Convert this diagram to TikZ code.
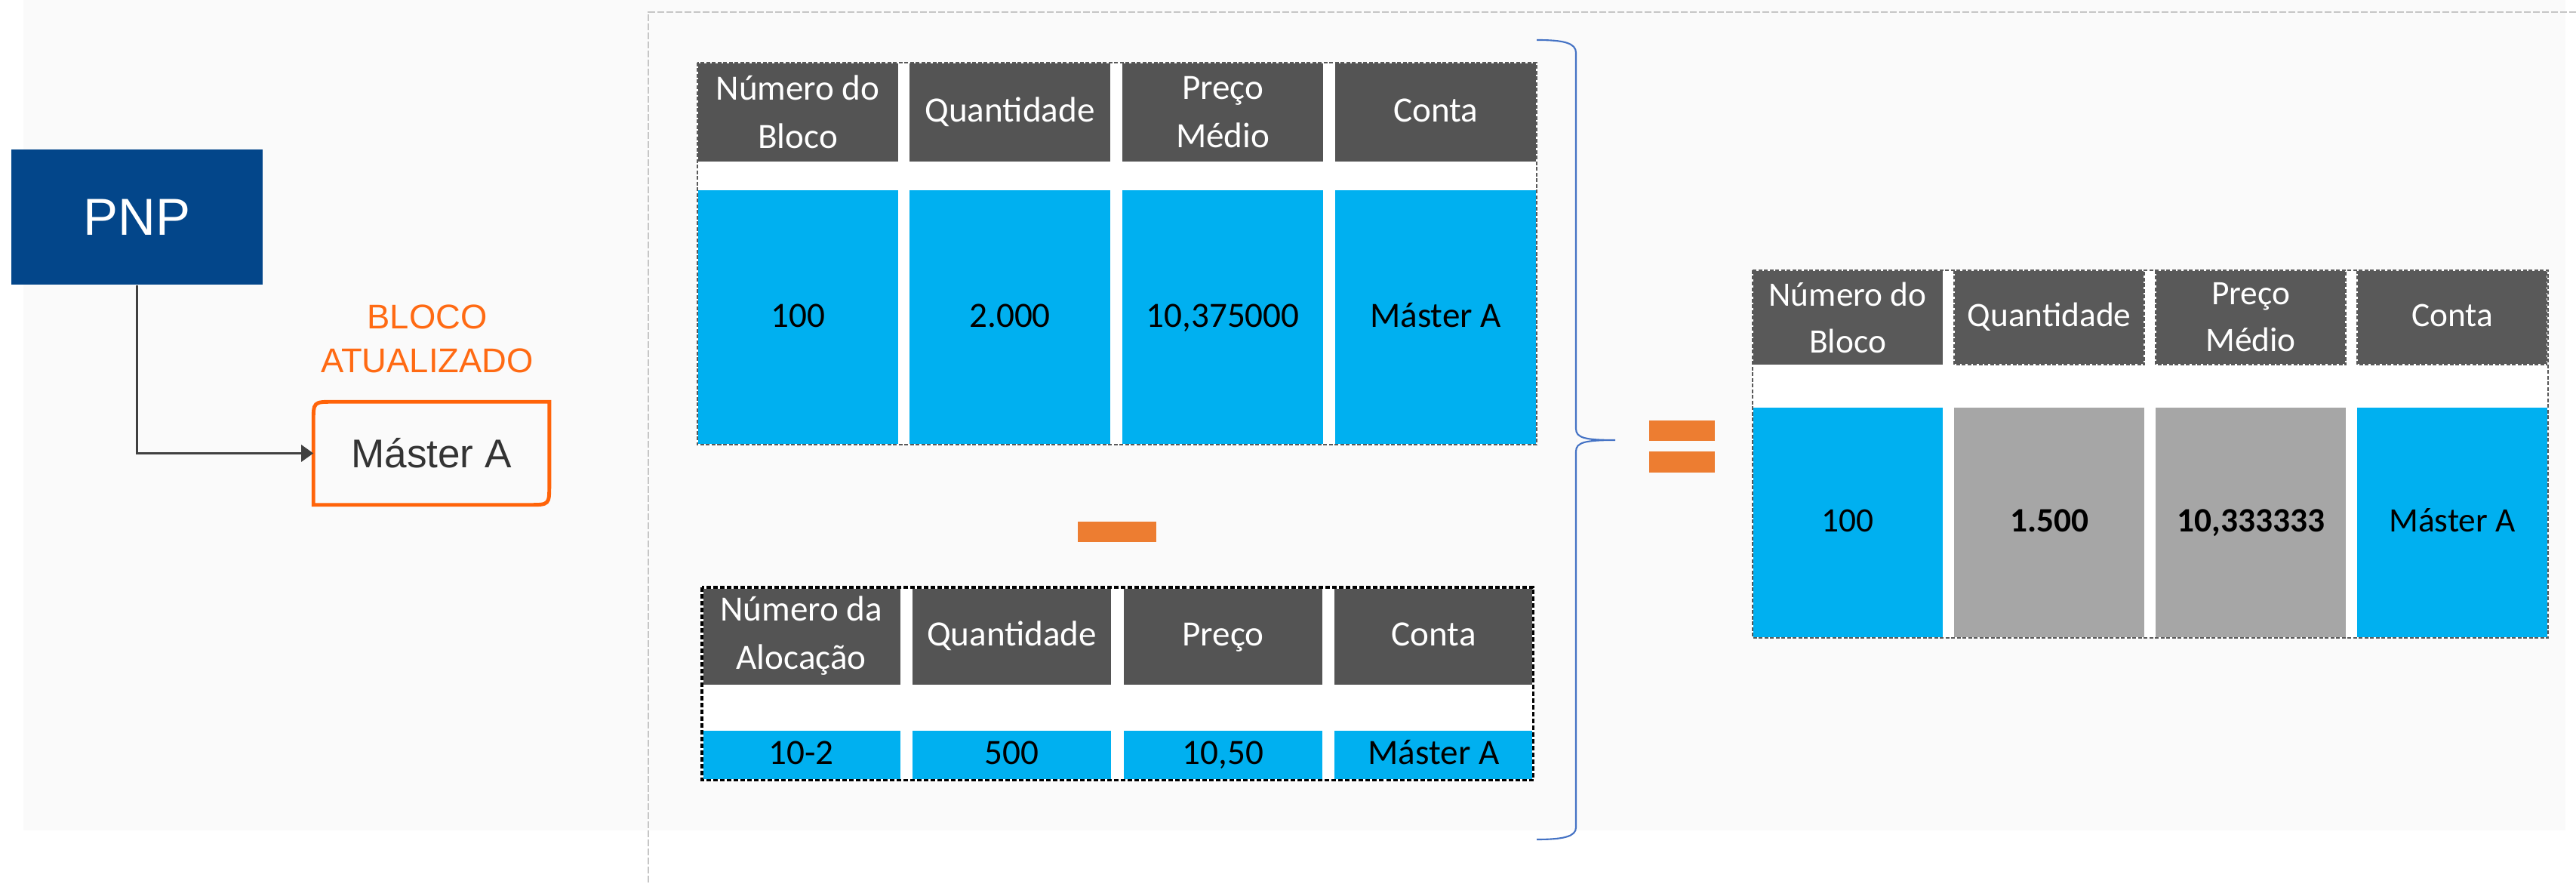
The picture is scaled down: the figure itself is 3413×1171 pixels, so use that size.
\documentclass[tikz,border=0pt]{standalone}
\usepackage{fontspec}
\setmainfont{Carlito}
\newfontfamily\arialf{Liberation Sans}
\usetikzlibrary{arrows.meta}
\definecolor{bgc}{HTML}{FAFAFA}
\definecolor{pnpblue}{HTML}{03468A}
\definecolor{hdrA}{HTML}{545454}
\definecolor{hdrB}{HTML}{595959}
\definecolor{cellblue}{HTML}{00B0F0}
\definecolor{cellgray}{HTML}{A6A6A6}
\definecolor{opsorange}{HTML}{ED7D31}
\definecolor{boxorange}{HTML}{FF6309}
\definecolor{txtorange}{HTML}{FF6A13}
\definecolor{bracec}{HTML}{4472C4}
\definecolor{sepgray}{HTML}{C6C6C6}
\definecolor{conncol}{HTML}{404040}
\definecolor{mastertxt}{HTML}{333333}
\begin{document}
\begin{tikzpicture}[x=0.01cm,y=-0.01cm,
  cell/.style={rectangle, inner sep=0pt, outer sep=0pt, anchor=north west, align=center, font={\fontsize{13.4}{18.2}\selectfont}},
  sl/.style={execute at begin node=\strut},
  hcA/.style={cell, fill=hdrA, text=white, minimum width=2.66cm, minimum height=1.31cm},
  bcA/.style={cell, sl, fill=cellblue, text=black, minimum width=2.66cm, minimum height=3.37cm},
  hcB/.style={cell, fill=hdrA, text=white, minimum width=2.63cm, minimum height=1.29cm},
  bcB/.style={cell, sl, fill=cellblue, text=black, minimum width=2.63cm, minimum height=0.63cm},
  hcC/.style={cell, fill=hdrB, text=white, minimum width=2.52cm, minimum height=1.25cm, font={\fontsize{12.9}{17.6}\selectfont}},
  bcC/.style={cell, sl, fill=cellblue, text=black, minimum width=2.52cm, minimum height=3.05cm, font={\fontsize{12.9}{17.6}\selectfont}},
  gcC/.style={bcC, fill=cellgray},
  frame/.style={rectangle, inner sep=0pt, outer sep=0pt, fill=white},
  thinborder/.style={draw=hdrB, line width=0.5pt, dash pattern=on 0.05cm off 0.025cm},
  thickborder/.style={draw=black, line width=0.9pt, dash pattern=on 0.06cm off 0.03cm},
  opbar/.style={rectangle, inner sep=0pt, fill=opsorange},
  sepline/.style={draw=sepgray, line width=0.7pt, dash pattern=on 0.09cm off 0.03cm},
  conn/.style={draw=conncol, line width=0.85pt, -{Triangle[length=0.16cm,width=0.22cm]}},
  bracestyle/.style={draw=bracec, line width=0.6pt}
]
\fill[white] (0,0) rectangle (3413,1171);
\useasboundingbox (0,0) rectangle (3413,1171);
\fill[bgc] (31,0) rectangle (3399,1100);
% separator lines
\coordinate (sepc) at (859,16);
\coordinate (sepr) at (3413,16);
\coordinate (sepb) at (859,1171);
\draw[sepline] (sepr) -- (sepc) -- (sepb);

% left part
\node[rectangle, fill=pnpblue, text=white, minimum width=3.33cm, minimum height=1.79cm, inner sep=0pt, font={\arialf\fontsize{19.6}{23}\selectfont}] (pnp) at (181.5,287.5) {PNP};
\node[align=center, text=txtorange, font={\arialf\fontsize{12.9}{16.5}\selectfont}] (lbl) at (566,449) {BLOCO\\ATUALIZADO};
\node[rectangle, minimum width=3.11cm, minimum height=1.35cm, inner sep=0pt, text=mastertxt, font={\arialf\fontsize{15.1}{18}\selectfont}] (ob) at (571.5,600.5) {Máster A};
\draw[draw=boxorange, line width=1.4pt] (ob.south west) -- ([yshift=-0.27cm]ob.north west) .. controls (ob.north west) .. ([xshift=0.27cm]ob.north west) -- (ob.north east) -- ([yshift=0.27cm]ob.south east) .. controls (ob.south east) .. ([xshift=-0.27cm]ob.south east) -- cycle;
\draw[conn] (pnp.south) |- (ob.west);

% top table
\node[frame, anchor=north west, minimum width=11.11cm, minimum height=5.06cm] (ta) at (924,83) {};
\node[hcA] (ta-h1) at (924,83) {Número do\\Bloco};
\node[hcA, sl] (ta-h2) at (1205,83) {Quantidade};
\node[hcA] (ta-h3) at (1487,83) {Preço\\Médio};
\node[hcA, sl] (ta-h4) at (1769,83) {Conta};
\node[bcA] (ta-b1) at (924,252) {100};
\node[bcA] (ta-b2) at (1205,252) {2.000};
\node[bcA] (ta-b3) at (1487,252) {10,375000};
\node[bcA] (ta-b4) at (1769,252) {Máster A};
\draw[white, line width=0.5pt] (ta.north west) rectangle (ta.south east);
\draw[thinborder] (ta.north west) rectangle (ta.south east);

% minus
\node[opbar, minimum width=1.04cm, minimum height=0.27cm, anchor=north west] (minus) at (1427,690) {};

% bottom table
\node[frame, anchor=north west, minimum width=11.01cm, minimum height=2.55cm] (tb) at (930,778) {};
\node[hcB] (tb-h1) at (930,778) {Número da\\Alocação};
\node[hcB, sl] (tb-h2) at (1209,778) {Quantidade};
\node[hcB, sl] (tb-h3) at (1489,778) {Preço};
\node[hcB, sl] (tb-h4) at (1768,778) {Conta};
\node[bcB] (tb-b1) at (930,968) {10-2};
\node[bcB] (tb-b2) at (1209,968) {500};
\node[bcB] (tb-b3) at (1489,968) {10,50};
\node[bcB] (tb-b4) at (1768,968) {Máster A};
\draw[white, line width=0.9pt] (tb.north west) rectangle (tb.south east);
\draw[thickborder] (tb.north west) rectangle (tb.south east);

% brace
\draw[bracestyle] (2036,53) .. controls (2072,53) and (2088,57) .. (2088,70) -- (2088,568) .. controls (2088,580) and (2100,583) .. (2140,583) .. controls (2100,583) and (2088,586) .. (2088,598) -- (2088,1096) .. controls (2088,1108) and (2072,1112) .. (2036,1112);

% equals
\node[opbar, minimum width=0.87cm, minimum height=0.27cm, anchor=north west] (eqa) at (2184,556) {};
\node[opbar, minimum width=0.87cm, minimum height=0.28cm, anchor=north west] (eqb) at (2184,597) {};

% right table
\node[frame, anchor=north west, minimum width=10.53cm, minimum height=4.87cm] (tc) at (2322,358) {};
\node[hcC] (tc-h1) at (2322,358) {Número do\\Bloco};
\node[hcC, sl] (tc-h2) at (2589,358) {Quantidade};
\node[hcC] (tc-h3) at (2856,358) {Preço\\Médio};
\node[hcC, sl] (tc-h4) at (3123,358) {Conta};
\node[bcC] (tc-b1) at (2322,540) {100};
\node[gcC] (tc-b2) at (2589,540) {\textbf{1.500}};
\node[gcC] (tc-b3) at (2856,540) {\textbf{10,333333}};
\node[bcC] (tc-b4) at (3123,540) {Máster A};
\foreach \n in {tc-h2,tc-h3,tc-h4} {
  \draw[white, line width=0.5pt] (\n.north west) rectangle (\n.south east);
  \draw[thinborder] (\n.north west) rectangle (\n.south east);
}
\draw[white, line width=0.5pt] (tc.north west) rectangle (tc.south east);
\draw[thinborder] (tc.north west) rectangle (tc.south east);
\end{tikzpicture}
\end{document}
